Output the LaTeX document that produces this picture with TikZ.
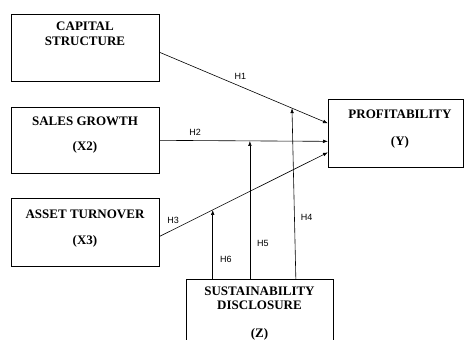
\documentclass[tikz,border=0pt]{standalone}
\usepackage{fontspec}
\setmainfont{Liberation Serif}
\setsansfont{Liberation Sans}
\usetikzlibrary{arrows.meta,calc}

\begin{document}
\begin{tikzpicture}[x=1pt,y=-1pt,
  box/.style={draw, line width=0.7pt, inner sep=0pt, anchor=north west},
  var/.style={font=\fontsize{13}{17}\selectfont\bfseries, align=center, inner sep=0pt},
  hyp/.style={font=\sffamily\fontsize{9}{10}\selectfont, inner sep=1pt},
  arr/.style={draw, line width=0.6pt, -{Latex[length=5pt,width=3.6pt]}}]
% Modelo de moderación: X1, X2, X3 -> Y, moderado por Z
\useasboundingbox (0,0) rectangle (464,340);
\clip (0,0) rectangle (464,340);
\node[box, minimum width=148pt, minimum height=67pt] (cs) at (11,14) {};
\node[box, minimum width=148pt, minimum height=66pt] (sg) at (11,107) {};
\node[box, minimum width=148pt, minimum height=68pt] (at) at (11,198) {};
\node[box, minimum width=135pt, minimum height=68pt] (py) at (328,99) {};
\node[box, minimum width=147pt, minimum height=80pt] (sd) at (186,279) {};
\node[var] (cst) at (85,34) {CAPITAL\\[-2pt]STRUCTURE};
\node[var] (sgt) at (85,135.5) {SALES GROWTH\\[8pt](X2)};
\node[var] (att) at (85,228.5) {ASSET TURNOVER\\[9pt](X3)};
\node[var] (pyt) at (400,129.5) {PROFITABILITY\\[10pt](Y)};
\node[var] (sdt) at (259.5,298.5) {SUSTAINABILITY\\[-3pt]DISCLOSURE};
\node[var] (sdz) at (259.5,334) {(Z)};
% efectos directos
\draw[arr] ([yshift=-4.5pt]cs.east) -- coordinate[pos=0.786] (m1)
  node[hyp, pos=0.48, above=6pt] {H1} ([yshift=10pt]py.west);
\draw[arr] (sg.east) -- coordinate[pos=0.536] (m2)
  node[hyp, pos=0.21, above=4pt] {H2} ([yshift=-8pt]py.west);
\draw[arr] ([yshift=-4pt]at.east) -- coordinate[pos=0.315] (m3)
  node[hyp, pos=0.08, above=5pt] {H3} ([yshift=-19pt]py.west);
% efectos moderadores
\draw[arr] (sd.north -| m3) -- node[hyp, pos=0.28, right=6pt] {H6} (m3);
\draw[arr] (sd.north -| m2) -- node[hyp, pos=0.26, right=6pt] {H5} (m2);
\draw[arr] ([xshift=36pt]sd.north) -- node[hyp, pos=0.36, right=5pt] {H4} (m1);
\end{tikzpicture}
\end{document}
